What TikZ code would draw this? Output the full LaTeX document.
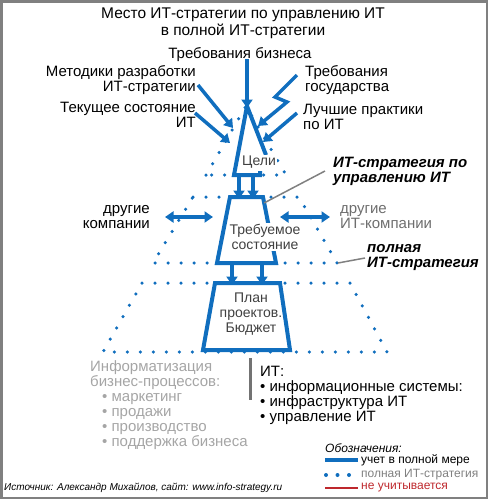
\documentclass[tikz,border=0pt]{standalone}
\usepackage{fontspec}
\setmainfont{Liberation Sans}
\usetikzlibrary{arrows.meta, calc}

\definecolor{itblue}{RGB}{16,110,190}
\definecolor{lightgraytext}{RGB}{165,165,165}
\definecolor{midgraytext}{RGB}{110,110,110}
\definecolor{legendred}{RGB}{190,40,45}

\begin{document}
\begin{tikzpicture}[x=1pt, y=-1pt,
  lbl/.style={font=\fontsize{15}{15}\selectfont, inner sep=0pt},
  title/.style={font=\fontsize{15.5}{17}\selectfont, align=center, inner sep=0pt},
  boldlbl/.style={font=\fontsize{15}{15}\selectfont\bfseries\itshape, inner sep=0pt, align=left, anchor=west},
  inlbl/.style={font=\fontsize{14}{15}\selectfont, fill=white, inner sep=1pt, align=center, text=black!75},
  leglbl/.style={font=\fontsize{12}{12}\selectfont, inner sep=0pt, anchor=west},
  arrow/.style={-{Triangle[length=8.5pt,width=11pt]}, line width=3.5pt, draw=itblue, line join=miter},
  dblarrow/.style={{Triangle[length=8.5pt,width=11pt]}-{Triangle[length=8.5pt,width=11pt]}, line width=3.5pt, draw=itblue},
  solidline/.style={line width=4pt, draw=itblue, line join=miter},
  dotline/.style={draw=itblue, line width=3.5pt, line cap=round, dash pattern=on 0pt off 13pt},
  pointer/.style={draw=gray, line width=1.5pt}
]
\useasboundingbox (0,0) rectangle (488,499);
\draw[draw=gray, line width=2.5pt] (1.25,1.25) rectangle (486.75,497.75);

%% Title
\node[title] (title) at (243,23) {Место ИТ-стратегии по управлению ИТ\\в полной ИТ-стратегии};

%% Inputs
\node[lbl] (biz) at (240,55) {Требования бизнеса};
\node[lbl, anchor=east, align=right] (metod) at (196,80) {Методики разработки\\ИТ-стратегии};
\node[lbl, anchor=east, align=right] (curr) at (196,115) {Текущее состояние\\ИТ};
\node[lbl, anchor=west, align=left] (gov) at (305,80) {Требования\\государства};
\node[lbl, anchor=west, align=left] (best) at (303,117) {Лучшие практики\\по ИТ};

%% Corners of the pyramid
\coordinate (apex) at (247,106);
\coordinate (goal-bl) at (234,175);
\coordinate (state-tl) at (230,197);
\coordinate (state-tr) at (263,197);
\coordinate (state-br) at (276,263);
\coordinate (state-bl) at (217,263);
\coordinate (plan-tl) at (215,283);
\coordinate (plan-tr) at (280,283);
\coordinate (plan-br) at (290,350);
\coordinate (plan-bl) at (203,350);
\coordinate (lvl2-br) at (337,263);

%% Dotted levels (full IT strategy)
\draw[dotline] (206,175) -- (246,106) -- (286,175) -- cycle;
\draw[dotline] (193,197) -- (299,197) -- (lvl2-br) -- (153,263) -- cycle;
\draw[dotline] (142,283) -- (350,283) -- (387,352) -- (103,352) -- cycle;

%% Solid levels (IT governance strategy)
\draw[solidline] (260,171) -- (260,175) -- (goal-bl) -- (apex) -- (266,155);
\draw[solidline] (state-tl) -- (state-tr) -- (state-br) -- (state-bl) -- cycle;
\draw[solidline] (plan-tl) -- (plan-tr) -- (plan-br) -- (plan-bl) -- cycle;

\node[inlbl] (goal) at (259,162) {Цели};
\node[inlbl] (state) at (265,237) {Требуемое\\состояние};
\node[inlbl, fill=none] (plan) at (251,314) {План\\проектов.\\Бюджет};

%% Arrows between levels
\foreach \x in {239,253} \draw[arrow] (\x,0 |- goal-bl) -- ([yshift=-2]\x,0 |- state-tl);
\foreach \x in {232,262} \draw[arrow] (\x,0 |- state-bl) -- ([yshift=-2]\x,0 |- plan-tl);

%% Arrows of the inputs
\coordinate (tm) at (233,128);
\coordinate (tc) at (230,143);
\coordinate (tg) at (258,126);
\coordinate (tb) at (263,142);
\draw[arrow] ([yshift=3]biz.south -| apex) -- ([yshift=-2]apex);
\draw[arrow] ([shift={(2,5)}]metod.east) -- (tm);
\draw[arrow] ([shift={(-1,-2)}]curr.east) -- (tc);
\draw[arrow] ([shift={(-8,-5)}]gov.west) -- ++(-22,22) -- ++(12,5) -- (tg);
\draw[arrow] ([shift={(-6,-4)}]best.west) -- (tb);

%% Other companies
\node[lbl, anchor=east, align=right] (othercomp) at (150,217) {другие\\компании};
\node[lbl, anchor=west, align=left, text=midgraytext] (otherit) at (340,217) {другие\\ИТ-компании};
\coordinate (xl) at (213,217);
\coordinate (xr) at (280,217);
\draw[dblarrow] ([xshift=15]othercomp.east) -- (xl);
\draw[dblarrow] (xr) -- ([xshift=-10]otherit.west);

%% Labels with pointers
\node[boldlbl] (itgov) at (333,171) {ИТ-стратегия по\\управлению ИТ};
\draw[pointer] ([xshift=-8]itgov.west) -- ($(state-tr)!0.09!(state-br)$);
\node[boldlbl] (full) at (367,258) {полная\\ИТ-стратегия};
\draw[pointer] ([xshift=-2]full.west) -- ([xshift=1]lvl2-br);

%% Bottom texts
\node[lbl, anchor=west, align=left, text=lightgraytext] (bizproc) at (90,405.5)
  {Информатизация\\бизнес-процессов:\\\hspace*{12pt}• маркетинг\\\hspace*{12pt}• продажи\\\hspace*{12pt}• производство\\\hspace*{12pt}• поддержка бизнеса};
\draw[line width=3pt, draw=black!55] (250,358) -- (250,400);
\node[lbl, anchor=west, align=left] (itlist) at (260,395.5)
  {ИТ:\\• информационные системы:\\• инфраструктура ИТ\\• управление ИТ};

%% Legend
\node[leglbl, font=\fontsize{12}{12}\selectfont\itshape] (legtitle) at (325,448) {Обозначения:};
\node[leglbl] (leg1) at (361,460) {учет в полной мере};
\node[leglbl, text=gray] (leg2) at (361,475) {полная ИТ-стратегия};
\node[leglbl, text=legendred] (leg3) at (361,488) {не учитывается};
\draw[line width=4pt, draw=itblue] ([xshift=-36]leg1.west) -- ([xshift=-3]leg1.west);
\foreach \dx in {35,23.5,12} \fill[itblue] ([xshift=-\dx]leg2.west) circle (2pt);
\draw[line width=1.2pt, draw=legendred] ([xshift=-36]leg3.west) -- ([xshift=-3]leg3.west);

%% Source
\node[font=\fontsize{10}{10}\selectfont\itshape, inner sep=0pt, anchor=west] (source) at (4,488)
  {Источник: Александр Михайлов, сайт: www.info-strategy.ru};
\end{tikzpicture}
\end{document}
